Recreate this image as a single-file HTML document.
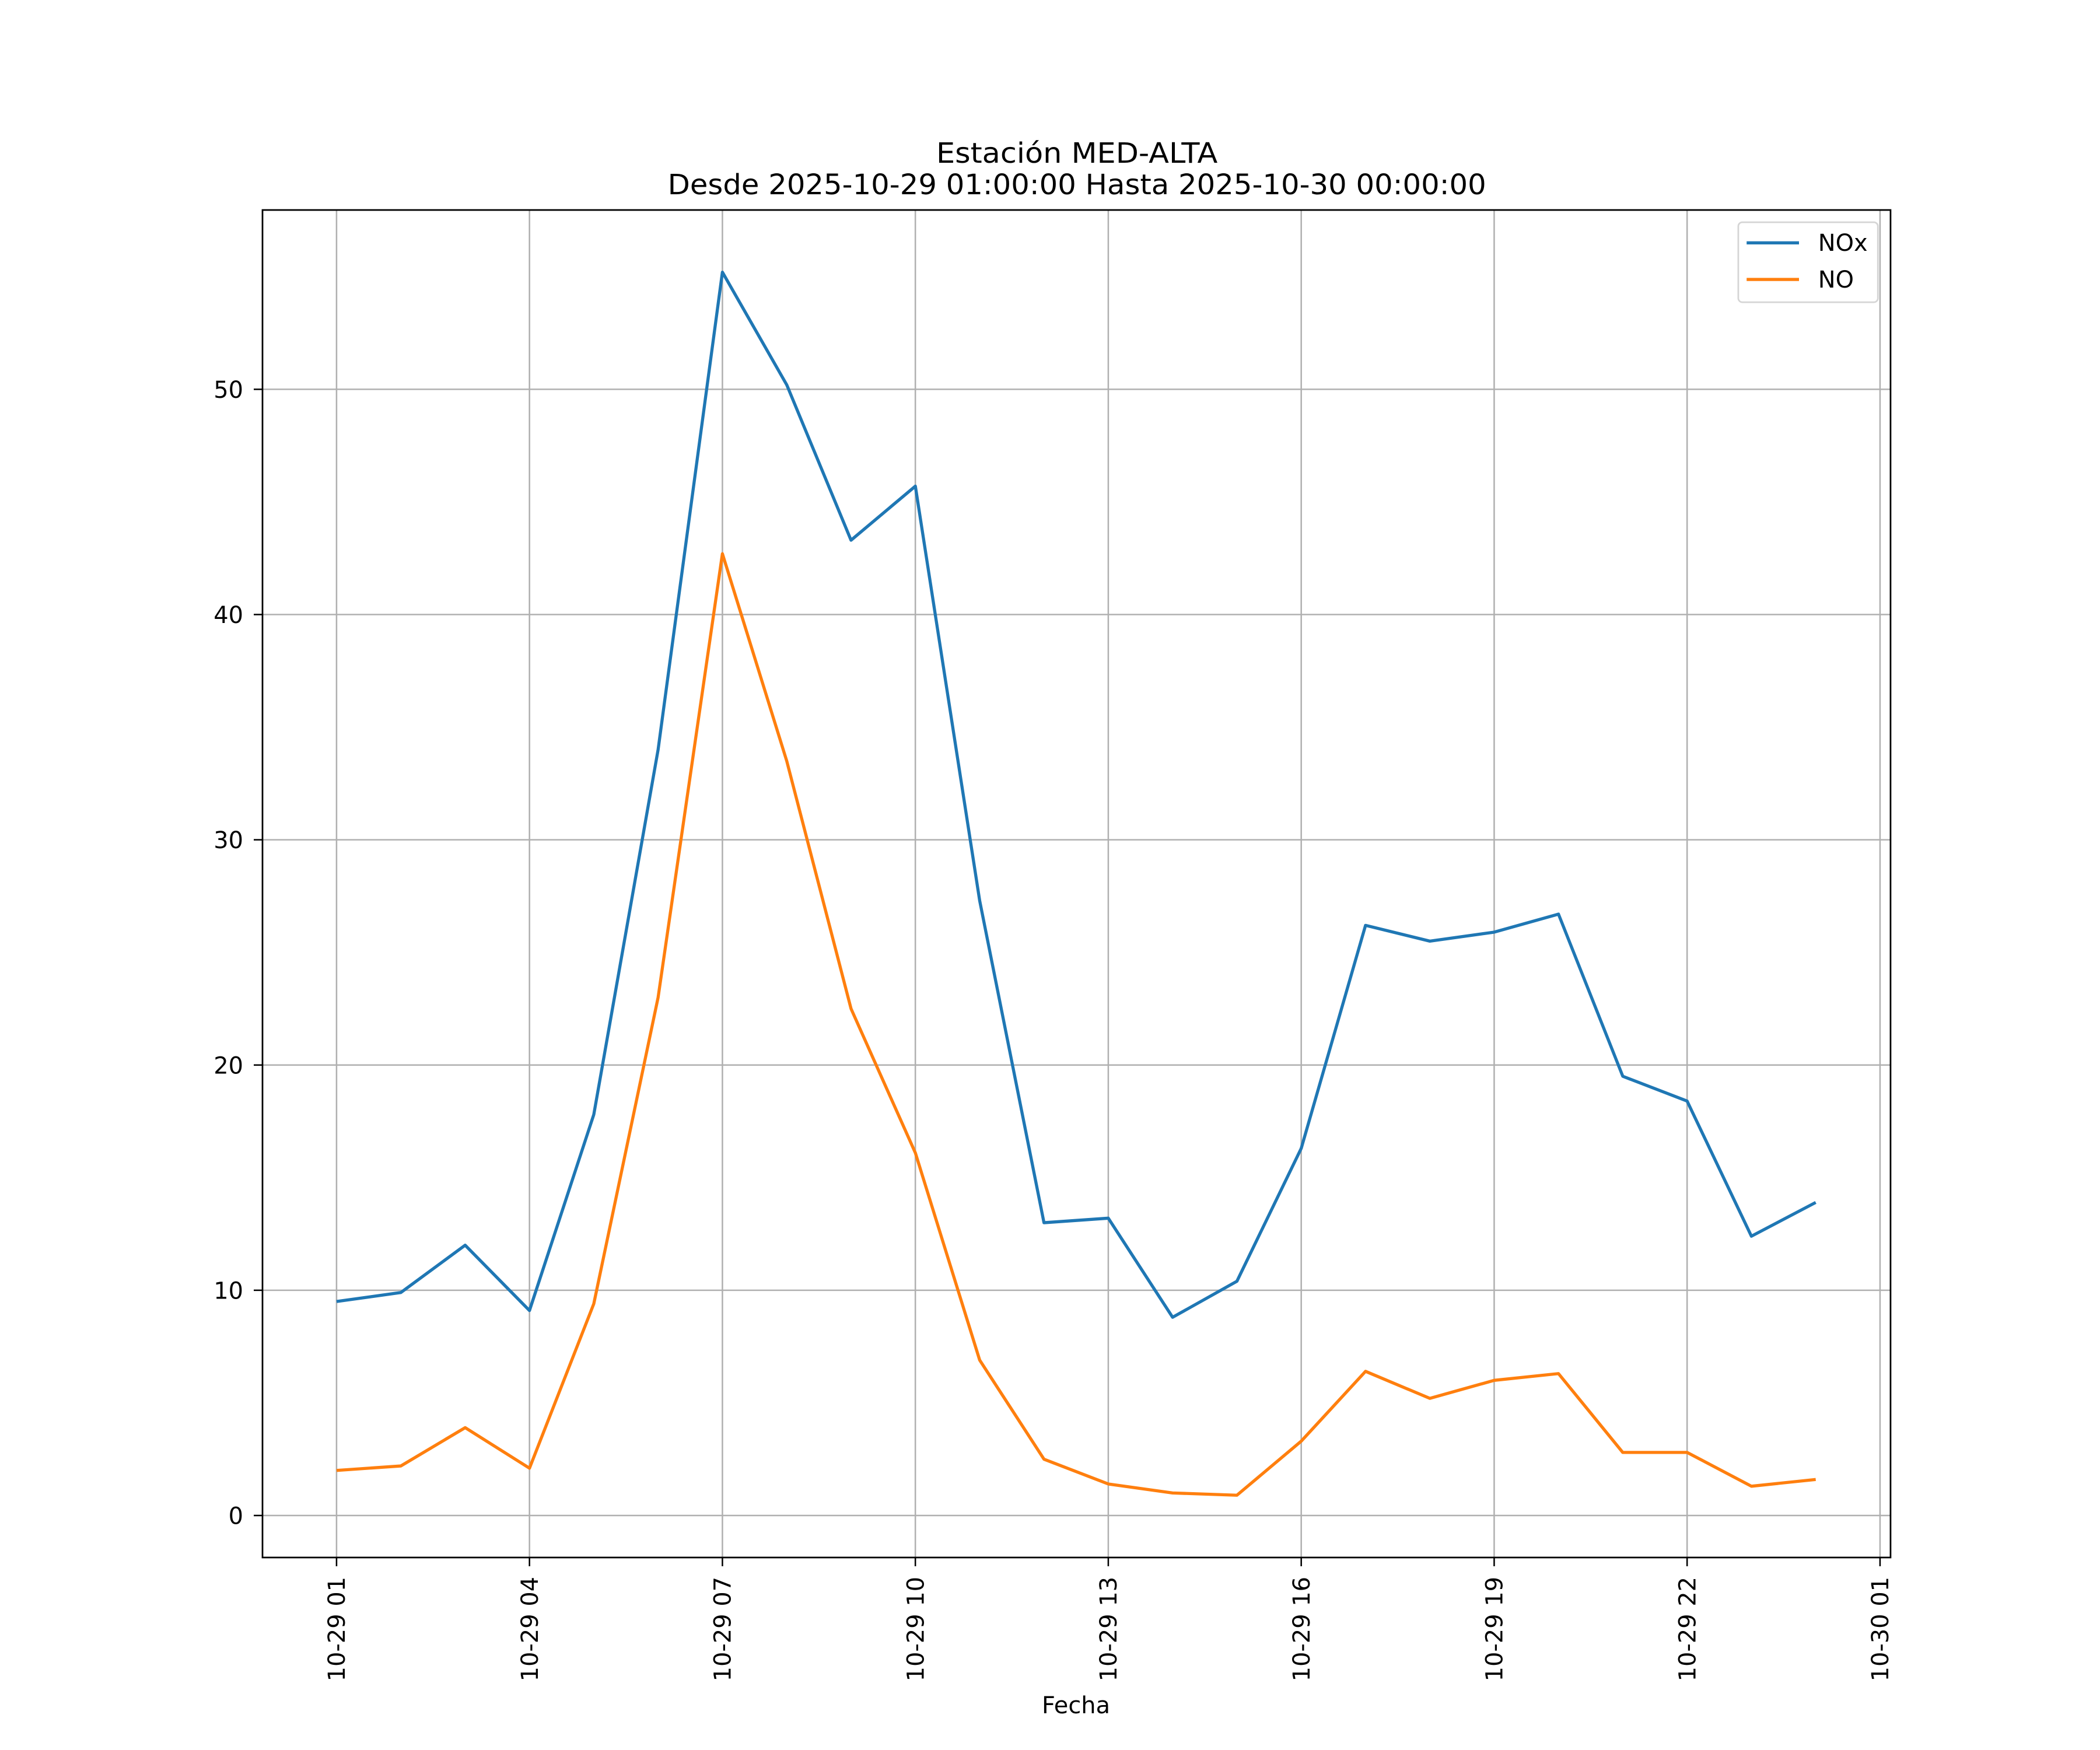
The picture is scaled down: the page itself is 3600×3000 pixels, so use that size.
<!DOCTYPE html>
<html><head><meta charset="utf-8"><style>
html,body{margin:0;padding:0;background:#fff;}
svg{display:block;font-family:"DejaVu Sans","Liberation Sans",sans-serif;}
</style></head><body>
<svg id="chart" width="3600" height="3000" viewBox="0 0 1560 1300" xmlns="http://www.w3.org/2000/svg">
<rect width="1560" height="1300" fill="#fff"/>
<text x="800" y="121" text-anchor="middle" font-size="20.8" textLength="209" lengthAdjust="spacingAndGlyphs">Estación MED-ALTA</text>
<text x="800" y="144.3" text-anchor="middle" font-size="20.8" textLength="608" lengthAdjust="spacingAndGlyphs">Desde 2025-10-29 01:00:00 Hasta 2025-10-30 00:00:00</text>
<g id="grid"></g>
<g id="series"></g>
<rect x="195" y="156" width="1209.4" height="1001" fill="none" stroke="#000" stroke-width="1.2"/>
<g id="ticks"></g>
<text x="799.3" y="1272.7" text-anchor="middle" font-size="17.3">Fecha</text>
<g>
<rect x="1291.3" y="165.1" width="103.7" height="59.4" fill="#fff" stroke="#d5d5d5" stroke-width="1.2" rx="3"/>
<line x1="1297.5" y1="180.4" x2="1336.4" y2="180.4" stroke="#1f77b4" stroke-width="2.3"/>
<text x="1350.6" y="186.4" font-size="17.3">NOx</text>
<line x1="1297.5" y1="207.6" x2="1336.4" y2="207.6" stroke="#ff7f0e" stroke-width="2.3"/>
<text x="1350.6" y="213.7" font-size="17.3">NO</text>
</g>
</svg>
<script>
const hours = [1,2,3,4,5,6,7,8,9,10,11,12,13,14,15,16,17,18,19,20,21,22,23,24];
const noxValues = [9.5,9.9,12.0,9.1,17.8,34.0,55.2,50.2,43.3,45.7,27.3,13.0,13.2,8.8,10.4,16.3,26.2,25.5,25.9,26.7,19.5,18.4,12.4,13.9];
const noValues = [2.0,2.2,3.9,2.1,9.4,23.0,42.7,33.5,22.5,16.1,6.9,2.5,1.4,1.0,0.9,3.3,6.4,5.2,6.0,6.3,2.8,2.8,1.3,1.6];
const yTicks = [0,10,20,30,40,50];
const xTickHours = [1,4,7,10,13,16,19,22,25];
const xTickLabels = ["10-29 01","10-29 04","10-29 07","10-29 10","10-29 13","10-29 16","10-29 19","10-29 22","10-30 01"];

const NS="http://www.w3.org/2000/svg";
const X0=195,X1=1404.4,Y0=156,Y1=1157;
function xs(h){return 250+(h-1)*(1396.6-250)/24;}
function ys(v){return 1125.8-v*(1125.8-289.2)/50;}
function mk(tag,attrs,parent){const e=document.createElementNS(NS,tag);for(const k in attrs)e.setAttribute(k,attrs[k]);parent.appendChild(e);return e;}
const grid=document.getElementById('grid'),ticks=document.getElementById('ticks'),series=document.getElementById('series');
yTicks.forEach(v=>{
  const y=ys(v);
  const g=mk('line',{x1:X0,x2:X1,y1:y,y2:y,stroke:'#b0b0b0','stroke-width':1.1},grid);
  
  
  mk('line',{x1:X0-6.5,x2:X0,y1:y,y2:y,stroke:'#000','stroke-width':1.1},ticks);
  const t=mk('text',{x:180.7,y:y+6.3,'text-anchor':'end','font-size':17.3},ticks);
  t.textContent=v;
  
  
});
xTickHours.forEach((h,i)=>{
  const x=xs(h);
  const g=mk('line',{x1:x,x2:x,y1:Y0,y2:Y1,stroke:'#b0b0b0','stroke-width':1.1},grid);
  
  
  mk('line',{x1:x,x2:x,y1:Y1,y2:Y1+6.5,stroke:'#000','stroke-width':1.1},ticks);
  const bx=x+6.2, by=1171.3;
  const t=mk('text',{x:bx,y:by,'text-anchor':'end','font-size':17.3,transform:`rotate(-90 ${bx} ${by})`},ticks);
  t.textContent=xTickLabels[i];
  
  
});
function line(vals,color,name){
  const p=mk('polyline',{points:vals.map((v,i)=>xs(hours[i])+','+ys(v)).join(' '),fill:'none',stroke:color,'stroke-width':2.3,'stroke-linejoin':'round'},series);
  
  
}
line(noxValues,'#1f77b4','nox-line');
line(noValues,'#ff7f0e','no-line');
</script>
</body></html>
